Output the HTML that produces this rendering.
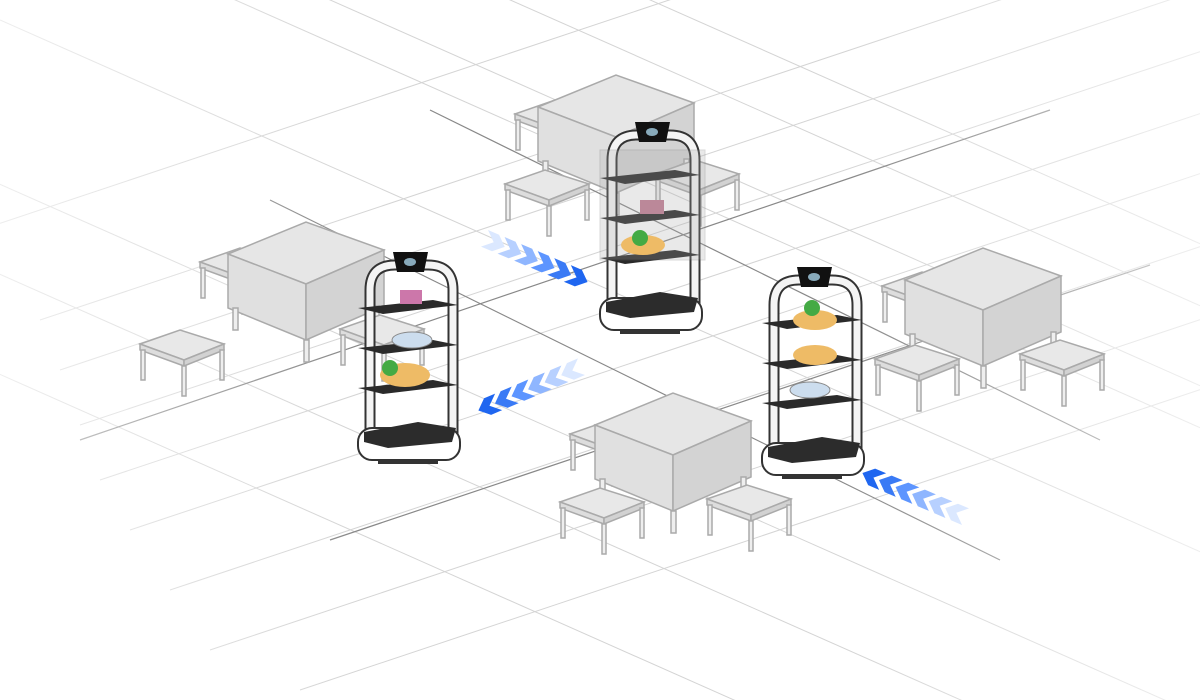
<!DOCTYPE html>
<html><head><meta charset="utf-8"><style>html,body{margin:0;padding:0;background:#fff;width:1200px;height:700px;overflow:hidden}svg{display:block}</style></head>
<body>
<svg width="1200" height="700" viewBox="0 0 1200 700" xmlns="http://www.w3.org/2000/svg">
<defs>
<linearGradient id="fade" x1="0" y1="0" x2="1" y2="0"><stop offset="0" stop-color="#fff" stop-opacity="1"/><stop offset="0.3" stop-color="#fff" stop-opacity="0"/><stop offset="0.7" stop-color="#fff" stop-opacity="0"/><stop offset="1" stop-color="#fff" stop-opacity="1"/></linearGradient>
<g id="stool" stroke="#aaa" stroke-width="1.5" fill="#e8e8e8">
<polygon points="0,14 40,0 84,14 44,30"/>
<polygon points="0,14 44,30 44,36 0,20" fill="#ddd"/>
<polygon points="44,30 84,14 84,20 44,36" fill="#d2d2d2"/>
<rect x="1" y="20" width="4" height="30" fill="#eee"/><rect x="42" y="36" width="4" height="30" fill="#eee"/><rect x="80" y="20" width="4" height="30" fill="#eee"/>
</g>
<g id="table" stroke="#aaa" stroke-width="1.5" fill="#e6e6e6">
<polygon points="0,32 78,0 156,28 78,62"/>
<polygon points="0,32 78,62 78,118 0,86" fill="#e0e0e0"/>
<polygon points="78,62 156,28 156,84 78,118" fill="#d3d3d3"/>
<rect x="5" y="86" width="5" height="22" fill="#eee"/><rect x="76" y="118" width="5" height="22" fill="#eee"/><rect x="146" y="84" width="5" height="22" fill="#eee"/>
</g>
<g id="robot">
<path d="M12,200 L12,40 Q12,15 37,15 L70,15 Q95,15 95,40 L95,200" fill="none" stroke="#333" stroke-width="11"/>
<path d="M12,200 L12,40 Q12,15 37,15 L70,15 Q95,15 95,40 L95,200" fill="none" stroke="#f4f4f4" stroke-width="7"/>
<polygon points="35,2 70,2 66,22 39,22" fill="#111"/>
<ellipse cx="52" cy="12" rx="6" ry="4" fill="#8ab"/>
<polygon points="0,58 75,50 100,55 25,64" fill="#2a2a2a"/>
<polygon points="0,98 75,90 100,95 25,104" fill="#2a2a2a"/>
<polygon points="0,138 75,130 100,135 25,144" fill="#2a2a2a"/>
<rect x="0" y="178" width="102" height="32" rx="14" fill="#fff" stroke="#333" stroke-width="2"/>
<polygon points="6,182 60,172 98,178 94,192 30,198 6,192" fill="#2c2c2c"/>
<rect x="20" y="210" width="60" height="4" fill="#333"/>
</g>
</defs>
<rect width="1200" height="700" fill="#fff"/>
<g stroke="#d4d4d4" stroke-width="1" fill="none">
<line x1="-100" y1="140" x2="1300" y2="760"/><line x1="-100" y1="230" x2="1200" y2="806"/>
<line x1="0" y1="20" x2="1300" y2="596"/><line x1="100" y1="-60" x2="1300" y2="472"/>
<line x1="240" y1="-40" x2="1300" y2="430"/><line x1="420" y1="-40" x2="1300" y2="350"/>
<line x1="560" y1="-40" x2="1300" y2="288"/><line x1="-100" y1="330" x2="1000" y2="818"/>
<line x1="40" y1="320" x2="1150" y2="-50"/><line x1="60" y1="370" x2="1250" y2="-27"/>
<line x1="80" y1="425" x2="1250" y2="35"/><line x1="100" y1="480" x2="1250" y2="97"/>
<line x1="130" y1="530" x2="1250" y2="157"/><line x1="170" y1="590" x2="1250" y2="230"/>
<line x1="210" y1="650" x2="1250" y2="303"/><line x1="300" y1="690" x2="1250" y2="373"/>
<line x1="-50" y1="240" x2="900" y2="-77"/>
</g>
<g stroke="#888" stroke-width="1.2" fill="none">
<line x1="270" y1="200" x2="1000" y2="560"/>
<line x1="80" y1="440" x2="1050" y2="110"/>
<line x1="330" y1="540" x2="1150" y2="265"/>
<line x1="430" y1="110" x2="1100" y2="440"/>
</g>
<rect width="1200" height="700" fill="url(#fade)" opacity="0.6"/>
<use href="#stool" x="515" y="100"/>
<use href="#table" x="538" y="75"/>
<use href="#stool" x="655" y="160"/>
<use href="#stool" x="505" y="170"/>
<use href="#stool" x="200" y="248"/>
<use href="#table" x="228" y="222"/>
<use href="#stool" x="140" y="330"/>
<use href="#stool" x="340" y="315"/>
<use href="#stool" x="882" y="272"/>
<use href="#table" x="905" y="248"/>
<use href="#stool" x="875" y="345"/>
<use href="#stool" x="1020" y="340"/>
<use href="#stool" x="570" y="420"/>
<use href="#table" x="595" y="393"/>
<use href="#stool" x="560" y="488"/>
<use href="#stool" x="707" y="485"/>
<use href="#robot" x="358" y="250"/>
<use href="#robot" x="600" y="120"/>
<rect x="600" y="150" width="105" height="110" fill="#aaa" opacity="0.25" stroke="#666"/>
<use href="#robot" x="762" y="265"/>
<g fill="#c7a"><rect x="400" y="290" width="22" height="14"/></g>
<g fill="#eebb66"><ellipse cx="405" cy="375" rx="25" ry="12"/><ellipse cx="643" cy="245" rx="22" ry="10"/><ellipse cx="815" cy="320" rx="22" ry="10"/><ellipse cx="815" cy="355" rx="22" ry="10"/></g>
<g fill="#4a4"><circle cx="390" cy="368" r="8"/><circle cx="640" cy="238" r="8"/><circle cx="812" cy="308" r="8"/></g>
<g fill="#cde" stroke="#888"><ellipse cx="412" cy="340" rx="20" ry="8"/><ellipse cx="810" cy="390" rx="20" ry="8"/></g>
<g fill="#b89"><rect x="640" y="200" width="24" height="14"/></g>
<g stroke-width="0">
<g transform="translate(488,230) rotate(23)">
<polygon points="0,0 12,0 22,9 12,18 0,18 10,9" fill="#dbe8ff"/>
<polygon points="18,0 30,0 40,9 30,18 18,18 28,9" fill="#b7d0ff"/>
<polygon points="36,0 48,0 58,9 48,18 36,18 46,9" fill="#8fb6ff"/>
<polygon points="54,0 66,0 76,9 66,18 54,18 64,9" fill="#5d95ff"/>
<polygon points="72,0 84,0 94,9 84,18 72,18 82,9" fill="#3a7af5"/>
<polygon points="90,0 102,0 112,9 102,18 90,18 100,9" fill="#1f66f0"/>
</g>
<g transform="translate(585,375) rotate(157)">
<polygon points="0,0 12,0 22,9 12,18 0,18 10,9" fill="#dbe8ff"/>
<polygon points="18,0 30,0 40,9 30,18 18,18 28,9" fill="#b7d0ff"/>
<polygon points="36,0 48,0 58,9 48,18 36,18 46,9" fill="#8fb6ff"/>
<polygon points="54,0 66,0 76,9 66,18 54,18 64,9" fill="#5d95ff"/>
<polygon points="72,0 84,0 94,9 84,18 72,18 82,9" fill="#3a7af5"/>
<polygon points="90,0 102,0 112,9 102,18 90,18 100,9" fill="#1f66f0"/>
</g>
<g transform="translate(962,525) rotate(203)">
<polygon points="0,0 12,0 22,9 12,18 0,18 10,9" fill="#dbe8ff"/>
<polygon points="18,0 30,0 40,9 30,18 18,18 28,9" fill="#b7d0ff"/>
<polygon points="36,0 48,0 58,9 48,18 36,18 46,9" fill="#8fb6ff"/>
<polygon points="54,0 66,0 76,9 66,18 54,18 64,9" fill="#5d95ff"/>
<polygon points="72,0 84,0 94,9 84,18 72,18 82,9" fill="#3a7af5"/>
<polygon points="90,0 102,0 112,9 102,18 90,18 100,9" fill="#1f66f0"/>
</g>
</g>
</svg>
</body></html>
